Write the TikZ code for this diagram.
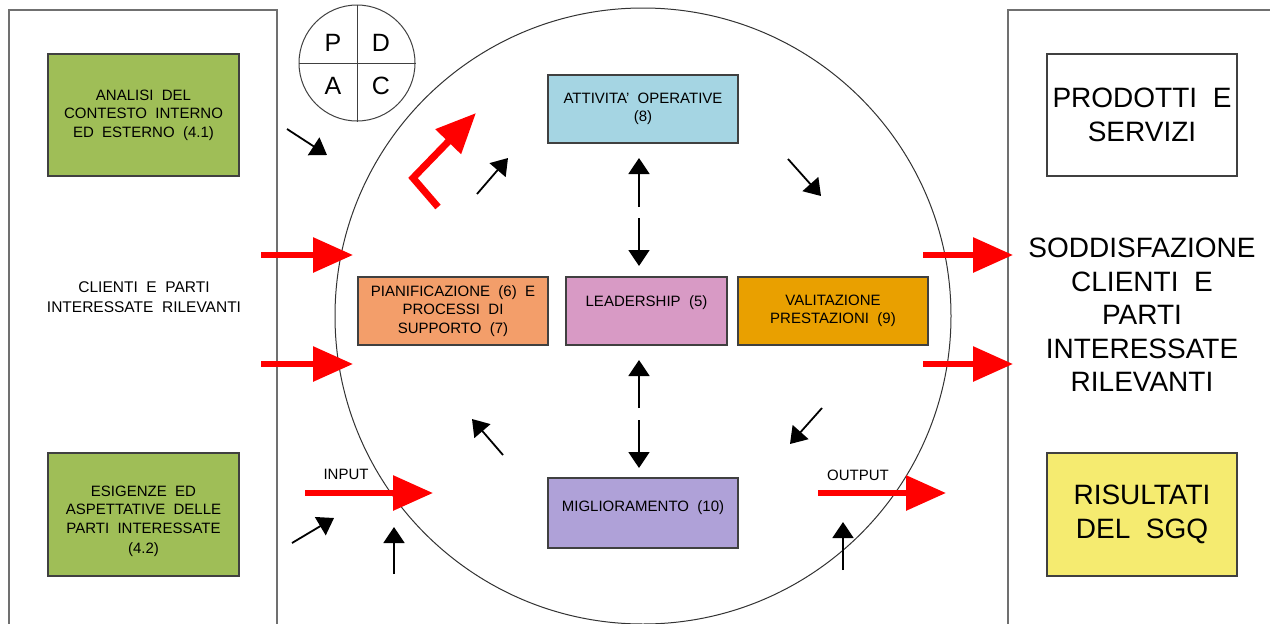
\documentclass[tikz,border=0pt]{standalone}
\usepackage{fontspec}
\setmainfont[WordSpace=2]{Liberation Sans}
\usetikzlibrary{arrows.meta}
\definecolor{cgreen}{HTML}{9FBE57}
\definecolor{cblue}{HTML}{A5D5E3}
\definecolor{csalmon}{HTML}{F39E6A}
\definecolor{cpink}{HTML}{D89AC5}
\definecolor{cgold}{HTML}{E9A000}
\definecolor{cpurple}{HTML}{AFA1D8}
\definecolor{cyellow}{HTML}{F5EB70}
\definecolor{frame}{HTML}{707070}
\definecolor{boxline}{HTML}{404040}
\newcommand{\smallf}{\fontsize{15}{18.5}\selectfont}
\newcommand{\bigf}{\fontsize{28}{34}\selectfont}
\begin{document}
\begin{tikzpicture}[x=1pt,y=-1pt,
  box/.style={draw=boxline, line width=1.2pt, inner sep=2pt, align=center, font=\smallf},
  bigbox/.style={box, font=\bigf, minimum width=190, minimum height=122},
  redarrow/.style={draw=red, line width=6pt, -{Triangle[length=40pt,width=34pt]}},
  blackarrow/.style={draw=black, line width=1.8pt, -{Triangle[length=16pt,width=21pt]}},
  txt/.style={align=center, inner sep=0pt}
]
\useasboundingbox (0,0) rectangle (1270,624);
\clip (0,0) rectangle (1270,624);
\fill[white] (0,0) rectangle (1270,624);

% outer frames
\draw[frame, line width=1.5pt] (9,640) -- (9,10) -- (277,10) -- (277,640);
\draw[frame, line width=1.5pt] (1008,640) -- (1008,10) -- (1290,10);

% big cycle circle
\node[circle, draw=black!80, line width=1pt, minimum size=616, inner sep=0pt] (cycle) at (643,316) {};

% PDCA circle
\node[circle, draw=black!75, line width=1pt, minimum size=116, inner sep=0pt] (pdca) at (357,63) {};
\draw[black!75, line width=1pt] (pdca.north) -- (pdca.south);
\draw[black!75, line width=1pt] (pdca.west) -- (pdca.east);
\node[font=\fontsize{25}{30}\selectfont] (pp) at (333,43) {P};
\node[font=\fontsize{25}{30}\selectfont] (pd) at (381,43) {D};
\node[font=\fontsize{25}{30}\selectfont] (pa) at (333,86) {A};
\node[font=\fontsize{25}{30}\selectfont] (pc) at (381,86) {C};

% left boxes
\node[box, fill=cgreen, minimum width=191, minimum height=122] (ctx) at (143.5,115)
  {ANALISI DEL\\CONTESTO INTERNO\\ED ESTERNO (4.1)};
\node[box, fill=cgreen, minimum width=191, minimum height=123,
  label={[txt, font=\smallf, yshift=-7pt]center:ESIGENZE ED\\ASPETTATIVE DELLE\\PARTI INTERESSATE\\[2pt](4.2)}] (esig) at (143.5,514.5) {};
\node[txt, font=\fontsize{15.5}{20}\selectfont] (cli) at (144,297) {CLIENTI E PARTI\\INTERESSATE RILEVANTI};

% center boxes
\node[box, fill=cblue, minimum width=190, minimum height=68] (att) at (643,109)
  {ATTIVITA' OPERATIVE\\(8)};
\node[box, fill=csalmon, minimum width=190, minimum height=68] (pian) at (453,311)
  {PIANIFICAZIONE (6) E\\PROCESSI DI\\SUPPORTO (7)};
\node[box, fill=cpink, minimum width=161, minimum height=68,
  label={[txt, font=\smallf, yshift=8pt]center:LEADERSHIP (5)}] (lead) at (646.5,311) {};
\node[box, fill=cgold, minimum width=190, minimum height=68] (val) at (833,311)
  {VALITAZIONE\\PRESTAZIONI (9)};
\node[box, fill=cpurple, minimum width=190, minimum height=70,
  label={[txt, font=\smallf, yshift=5pt]center:MIGLIORAMENTO (10)}] (mig) at (643,513) {};

% right boxes
\node[bigbox, fill=white] (prod) at (1142,115) {PRODOTTI E\\SERVIZI};
\node[bigbox, fill=cyellow, minimum height=123] (ris) at (1142,514.5) {RISULTATI\\DEL SGQ};
\node[txt, font=\fontsize{28}{33.5}\selectfont] (sodd) at (1142,315)
  {SODDISFAZIONE\\CLIENTI E\\PARTI\\INTERESSATE\\RILEVANTI};

% labels
\node[font=\smallf] (inp) at (346,474) {INPUT};
\node[font=\smallf] (outp) at (858,475) {OUTPUT};

% coordinates for free arrows
\coordinate (r1a) at (261,255); \coordinate (r1b) at (353,255);
\coordinate (r2a) at (261,364); \coordinate (r2b) at (353,364);
\coordinate (r3a) at (923,255); \coordinate (r3b) at (1013,255);
\coordinate (r4a) at (923,364); \coordinate (r4b) at (1013,364);
\coordinate (ina) at (305,493); \coordinate (inb) at (433,493);
\coordinate (oua) at (818,493); \coordinate (oub) at (946,493);
\coordinate (ba) at (438,207); \coordinate (bb) at (413,178); \coordinate (bc) at (476,113);

\coordinate (b1a) at (287,129); \coordinate (b1b) at (327,155);
\coordinate (b2a) at (477,194); \coordinate (b2b) at (508,158);
\coordinate (b3a) at (788,159); \coordinate (b3b) at (821,196);
\coordinate (b4a) at (503,455); \coordinate (b4b) at (472,419);
\coordinate (b5a) at (822,408); \coordinate (b5b) at (790,444);
\coordinate (b6a) at (292,543); \coordinate (b6b) at (334,518);
\coordinate (b7a) at (394,574); \coordinate (b7b) at (394,527);
\coordinate (b8a) at (843,570); \coordinate (b8b) at (843,522);
\coordinate (v1a) at (639,207); \coordinate (v1b) at (639,158);
\coordinate (v2a) at (639,218); \coordinate (v2b) at (639,266);
\coordinate (v3a) at (639,408); \coordinate (v3b) at (639,360);
\coordinate (v4a) at (639,420); \coordinate (v4b) at (639,468);

% red arrows
\draw[redarrow] (r1a) -- (r1b);
\draw[redarrow] (r2a) -- (r2b);
\draw[redarrow] (r3a) -- (r3b);
\draw[redarrow] (r4a) -- (r4b);
\draw[redarrow] (ina) -- (inb);
\draw[redarrow] (oua) -- (oub);
\draw[redarrow, line width=7pt, line join=miter] (ba) -- (bb) -- (bc);

% black arrows
\foreach \n in {b1,b2,b3,b4,b5,b6,b7,b8,v1,v2,v3,v4}
  \draw[blackarrow] (\n a) -- (\n b);
\end{tikzpicture}
\end{document}
